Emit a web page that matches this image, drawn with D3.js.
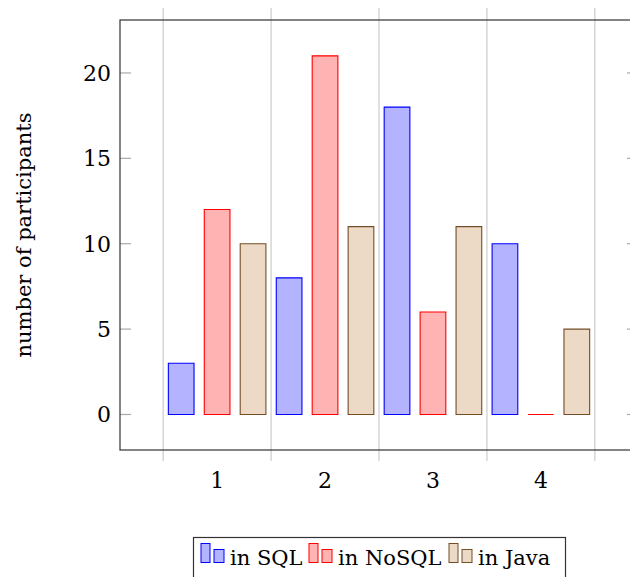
<!DOCTYPE html>
<html>
<head>
<meta charset="utf-8">
<script src="https://cdn.jsdelivr.net/npm/d3@7"></script>
<style>
  body { margin: 0; background: #fff; }
  svg { display: block; font-family: "DejaVu Serif", serif; }
</style>
</head>
<body>
<svg id="chart" width="630" height="577"></svg>
<script>
// values
const groups = [1, 2, 3, 4];
const sqlValues = [3, 8, 18, 10];
const nosqlValues = [12, 21, 6, 0];
const javaValues = [10, 11, 11, 5];
const seriesNames = ['in SQL', 'in NoSQL', 'in Java'];
const yTicks = [0, 5, 10, 15, 20];
const gridTicks = [0.5, 1.5, 2.5, 3.5, 4.5];

const series = [
    {name: seriesNames[0], values: sqlValues, fill: '#b3b3ff', stroke: '#0000ff', offset: -1},
    {name: seriesNames[1], values: nosqlValues, fill: '#ffb3b3', stroke: '#ff0000', offset: 0},
    {name: seriesNames[2], values: javaValues, fill: '#ecd9c6', stroke: '#734d26', offset: 1}
];

const svg = d3.select('#chart');
const plotLeft = 120, plotRight = 638, plotTop = 20, plotBottom = 450;
const x = d3.scaleLinear().domain([0.1, 4.9]).range([plotLeft, plotRight]);
const y = d3.scaleLinear().domain([-2.08, 23.1]).range([plotBottom, plotTop]);
const barShift = 0.333, barWidth = 0.238;

// vertical grid (minor x ticks), sticking out of the box a bit
svg.append('g')
    .selectAll('line')
    .data(gridTicks)
    .join('line')
    .attr('x1', d => x(d)).attr('x2', d => x(d))
    .attr('y1', plotTop - 12).attr('y2', plotBottom + 11)
    .attr('stroke', '#cfcfcf')
    .attr('stroke-width', 1.3);

// y tick marks inside the box, both sides
const yTickG = svg.append('g');
yTickG.selectAll('.lt')
    .data(yTicks)
    .join('line')
    .attr('class', 'lt')
    .attr('x1', plotLeft).attr('x2', plotLeft + 11)
    .attr('y1', d => y(d)).attr('y2', d => y(d))
    .attr('stroke', '#aaaaaa').attr('stroke-width', 1.2);
yTickG.selectAll('.rt')
    .data(yTicks)
    .join('line')
    .attr('class', 'rt')
    .attr('x1', plotRight - 11).attr('x2', plotRight)
    .attr('y1', d => y(d)).attr('y2', d => y(d))
    .attr('stroke', '#aaaaaa').attr('stroke-width', 1.2);

// bars as closed paths so a zero bar still shows its outline
series.forEach(s => {
    svg.append('g')
        .selectAll('path')
        .data(groups)
        .join('path')
        .attr('d', (g, i) => {
            const x0 = x(g + s.offset * barShift - barWidth / 2);
            const x1 = x(g + s.offset * barShift + barWidth / 2);
            const y0 = y(0), y1 = y(s.values[i]);
            return `M${x0},${y0}V${y1}H${x1}V${y0}Z`;
        })
        .attr('fill', s.fill)
        .attr('stroke', s.stroke)
        .attr('stroke-width', 1.1);
});

// axis box
svg.append('rect')
    .attr('x', plotLeft).attr('y', plotTop)
    .attr('width', plotRight - plotLeft).attr('height', plotBottom - plotTop)
    .attr('fill', 'none')
    .attr('stroke', '#333')
    .attr('stroke-width', 1.2);

// tick labels
svg.append('g')
    .selectAll('text')
    .data(yTicks)
    .join('text')
    .attr('x', plotLeft - 9)
    .attr('y', d => y(d))
    .attr('dy', '0.36em')
    .attr('text-anchor', 'end')
    .style('font-size', '22px')
    .text(d => d);

svg.append('g')
    .selectAll('text')
    .data(groups)
    .join('text')
    .attr('x', d => x(d))
    .attr('y', 488)
    .attr('text-anchor', 'middle')
    .style('font-size', '22px')
    .text(d => d);

svg.append('text')
    .attr('transform', `translate(31, ${(plotTop + plotBottom) / 2}) rotate(-90)`)
    .attr('text-anchor', 'middle')
    .style('font-size', '21px')
    .text('number of participants');

// legend
const legend = svg.append('g');
legend.append('rect')
    .attr('x', 193.5).attr('y', 537.5)
    .attr('width', 372).attr('height', 50)
    .attr('fill', 'white')
    .attr('stroke', '#333')
    .attr('stroke-width', 1.2);

const legendX = [201, 309, 449];
series.forEach((s, i) => {
    const lx = legendX[i];
    legend.append('rect')
        .attr('x', lx).attr('y', 543.5)
        .attr('width', 9).attr('height', 19)
        .attr('fill', s.fill).attr('stroke', s.stroke);
    legend.append('rect')
        .attr('x', lx + 13).attr('y', 549.5)
        .attr('width', 10).attr('height', 13)
        .attr('fill', s.fill).attr('stroke', s.stroke);
    legend.append('text')
        .attr('x', lx + 29)
        .attr('y', 565)
        .style('font-size', '21px')
        .text(s.name);
});
</script>
</body>
</html>
